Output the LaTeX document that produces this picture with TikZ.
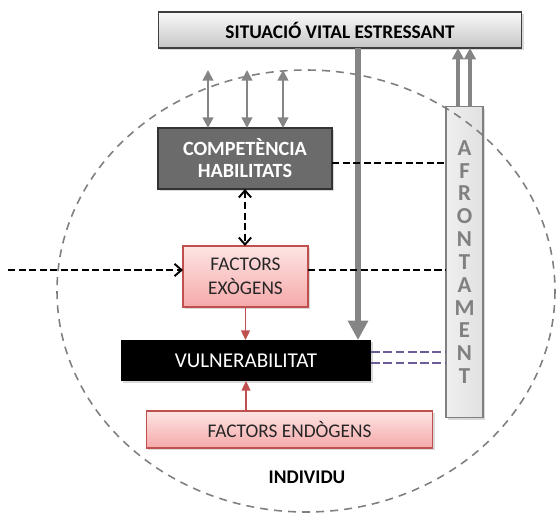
\documentclass[tikz,border=0pt]{standalone}
\usepackage{fontspec}
\setmainfont{Carlito}
\usetikzlibrary{arrows.meta,shapes,positioning,shadows,calc}

\definecolor{boxred}{HTML}{C0504D}
\definecolor{pinktop}{HTML}{FDE4E4}
\definecolor{pinkbot}{HTML}{F6A9A9}
\definecolor{arrowgray}{HTML}{858585}
\definecolor{ringgray}{HTML}{7F7F7F}
\definecolor{compgray}{HTML}{6B6B6B}
\definecolor{linepurple}{HTML}{6E5C98}

\begin{document}
\begin{tikzpicture}[x=0.02cm, y=-0.02cm,
    shadowbox/.style={rectangle, inner sep=0pt, outer sep=0pt, align=center,
        font=\fontsize{11}{13}\selectfont,
        drop shadow={shadow xshift=1.2pt, shadow yshift=-1.2pt, opacity=0.3}},
    pinkbox/.style={shadowbox, draw=boxred, line width=0.6pt,
        top color=pinktop, bottom color=pinkbot, text=black!85},
    grayarrow/.style={draw=arrowgray, line width=1.2pt,
        -{Triangle[width=6pt,length=6pt]}},
    redarrow/.style={draw=boxred, line width=1.1pt,
        -{Triangle[width=5pt,length=5.5pt]}},
    dline/.style={black, line width=1.1pt, dash pattern=on 4pt off 2pt},
    dlinearrow/.style={dline, -{Straight Barb[width=7pt,length=4pt]}},
    purpleline/.style={linepurple, line width=1.3pt, dash pattern=on 5pt off 2pt}]

    % fix the picture size
    \useasboundingbox (0,0) rectangle (556,515);

    % boxes
    \node[shadowbox, draw=black!75, line width=0.6pt, top color=gray!4, bottom color=gray!45,
        minimum width=7.28cm, minimum height=0.72cm, font=\fontsize{11}{13}\selectfont\bfseries]
        (sit) at (340,30) {SITUACIÓ VITAL ESTRESSANT};
    \node[shadowbox, draw=black!80, line width=0.6pt, fill=compgray, text=white,
        minimum width=3.48cm, minimum height=1.22cm,
        font=\fontsize{11.5}{12.6}\selectfont\bfseries]
        (comp) at (245,158.5) {COMPETÈNCIA\\HABILITATS};
    \node[pinkbox, minimum width=2.5cm, minimum height=1.22cm,
        font=\fontsize{11}{13.7}\selectfont]
        (exo) at (245.5,276.5) {FACTORS\\EXÒGENS};
    \node[shadowbox, fill=black, text=white, minimum width=5cm, minimum height=0.82cm,
        font=\fontsize{12}{14}\selectfont]
        (vul) at (246,360.5) {VULNERABILITAT};
    \node[pinkbox, minimum width=5.74cm, minimum height=0.74cm]
        (endo) at (289.5,429.5) {FACTORS ENDÒGENS};
    \node[shadowbox, draw=black!50, line width=0.6pt, left color=gray!12, right color=gray!24,
        minimum width=0.74cm, minimum height=6.22cm, text=black!50,
        font=\fontsize{13}{13}\selectfont\bfseries]
        (afr) at (464.5,262) {A\\F\\R\\O\\N\\T\\A\\M\\E\\N\\T};

    % the individual, dashed ellipse
    \draw[ringgray, line width=0.9pt, dash pattern=on 4.5pt off 3.5pt]
        (306,291) ellipse (249 and 221);

    % label of the ellipse
    \node[font=\fontsize{11}{13}\selectfont\bfseries] (ind) at (307,477) {INDIVIDU};

    % small double arrows above competencia
    \coordinate (t1) at (208,70);
    \coordinate (t2) at (247,70);
    \coordinate (t3) at (283,70);
    \foreach \t in {t1,t2,t3}
        \draw[grayarrow, {Triangle[width=6pt,length=6pt]}-{Triangle[width=6pt,length=6pt]}]
            (\t) -- (\t |- comp.north);

    % stress goes down to vulnerabilitat
    \coordinate (g) at (358,0);
    \draw[draw=arrowgray, line width=3.4pt, -{Triangle[width=11pt,length=11pt]}]
        (sit.south -| g) -- (vul.north -| g);

    % afrontament goes up to the situation
    \coordinate (u1) at ($(afr.north)+(-6.5,0)$);
    \coordinate (u2) at ($(afr.north)+(5.5,0)$);
    \draw[draw=arrowgray, line width=2pt, -{Triangle[width=6.5pt,length=6.5pt]}] (u1) -- (u1 |- sit.south);
    \draw[draw=arrowgray, line width=2pt, -{Triangle[width=6.5pt,length=6.5pt]}] (u2) -- (u2 |- sit.south);

    % dashed links
    \draw[dline, {Straight Barb[width=7pt,length=4pt]}-{Straight Barb[width=7pt,length=4pt]}]
        (comp.south) -- (comp.south |- exo.north);
    \coordinate (in) at (8,270);
    \draw[dlinearrow] (in) -- (in -| exo.west);
    \draw[dline] (in -| exo.east) -- (in -| afr.west);
    \draw[dline] ($(comp.east)+(0,4.5)$) -- ($(comp.east -| afr.west)+(0,4.5)$);

    % red arrows into vulnerabilitat
    \draw[redarrow] (exo.south) -- (exo.south |- vul.north);
    \draw[redarrow] (vul.south |- endo.north) -- (vul.south);

    % double purple line to afrontament
    \draw[purpleline] ($(vul.east)+(0,-8.5)$) -- ($(vul.east -| afr.west)+(0,-8.5)$);
    \draw[purpleline] ($(vul.east)+(0,2.5)$) -- ($(vul.east -| afr.west)+(0,2.5)$);
\end{tikzpicture}
\end{document}
